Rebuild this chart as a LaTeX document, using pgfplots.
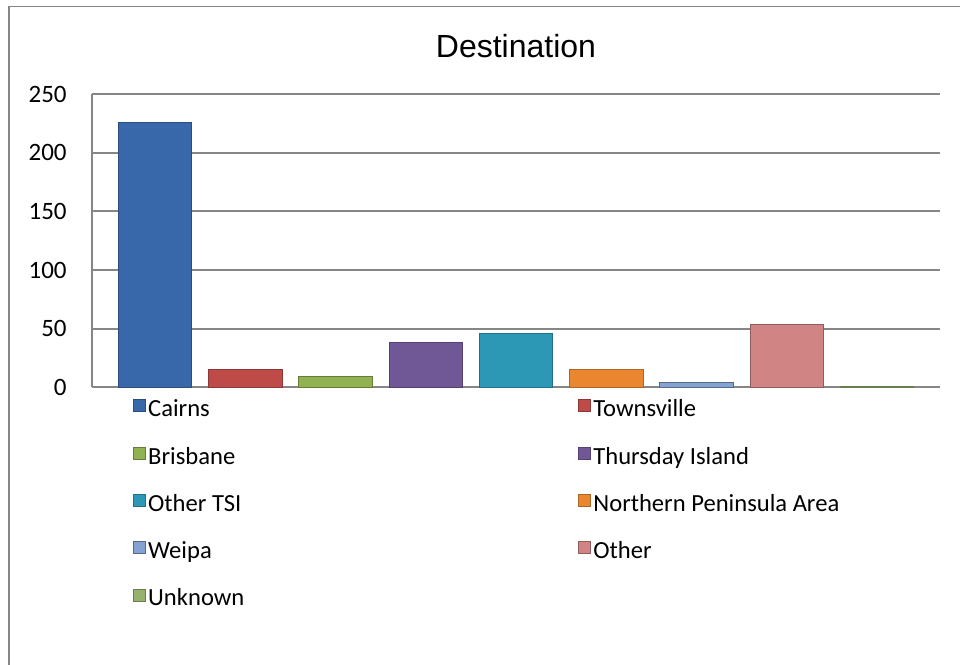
\documentclass[border=0pt]{standalone}
\usepackage{pgfplots}
\pgfplotsset{compat=1.18}
\usepackage{fontspec}
\setmainfont{Carlito}
\newfontfamily\arialfont{Liberation Sans}
\definecolor{gridgray}{RGB}{134,134,134}
\definecolor{cCairns}{RGB}{56,104,170}
\definecolor{cTownsville}{RGB}{190,75,72}
\definecolor{cBrisbane}{RGB}{145,178,80}
\definecolor{cThursday}{RGB}{112,88,150}
\definecolor{cOtherTSI}{RGB}{44,152,182}
\definecolor{cNPA}{RGB}{234,134,48}
\definecolor{cWeipa}{RGB}{132,162,210}
\definecolor{cOther}{RGB}{208,133,132}
\definecolor{cUnknown}{RGB}{150,178,110}
\newcommand{\colone}[1]{\makebox[215pt][l]{#1}}
\begin{document}
\begin{tikzpicture}
\path[use as bounding box] (-46pt,-138.85pt) rectangle (434pt,193.65pt);
\begin{axis}[
  at={(0,0)}, anchor=south west,
  width=424pt, height=146.65pt, scale only axis,
  xmin=-0.698, xmax=8.698,
  ymin=0, ymax=250,
  ytick={0,50,100,150,200,250},
  xtick=\empty,
  axis x line=bottom, axis y line=left,
  axis line style={-, draw=gridgray, line width=0.9pt},
  ymajorgrids,
  grid style={draw=gridgray, line width=0.9pt},
  major tick length=0pt,
  ytick style={draw=none},
  /pgf/number format/assume math mode=true,
  yticklabel style={font=\fontsize{12.5}{15}\selectfont, anchor=east, inner sep=0pt, xshift=-12.5pt},
  title={Destination},
  title style={font=\arialfont\fontsize{16}{18}\selectfont, at={(axis description cs:0.5,1)}, anchor=base, yshift=12.35pt, inner sep=0pt},
  ybar, bar width=0.813, bar shift=0pt,
  legend columns=2,
  legend image code/.code={\draw[#1, line width=0.4pt] (0pt,-0.5pt) rectangle (6pt,5.5pt);},
  legend style={draw=none, fill=none, at={(axis description cs:0,0)}, anchor=north west,
    xshift=20.5pt, yshift=-5.7pt, inner sep=0pt, outer sep=0pt,
    row sep=11.65pt, column sep=0pt,
    nodes={inner sep=0pt, text height=9pt, text depth=3pt, font=\fontsize{12.3}{15}\selectfont},
    /tikz/every odd column/.append style={column sep=1.2pt}},
  legend cell align=left,
]
\addplot[fill=cCairns, draw=cCairns!75!black, bar shift=0pt] coordinates {(0,226)};
\addlegendentry{\colone{Cairns}}
\addplot[fill=cTownsville, draw=cTownsville!75!black, bar shift=0pt] coordinates {(1,15)};
\addlegendentry{Townsville}
\addplot[fill=cBrisbane, draw=cBrisbane!70!black, bar shift=0pt] coordinates {(2,9)};
\addlegendentry{\colone{Brisbane}}
\addplot[fill=cThursday, draw=cThursday!75!black, bar shift=0pt] coordinates {(3,38)};
\addlegendentry{Thursday Island}
\addplot[fill=cOtherTSI, draw=cOtherTSI!75!black, bar shift=0pt] coordinates {(4,46)};
\addlegendentry{\colone{Other TSI}}
\addplot[fill=cNPA, draw=cNPA!75!black, bar shift=0pt] coordinates {(5,15)};
\addlegendentry{Northern Peninsula Area}
\addplot[fill=cWeipa, draw=cWeipa!65!black, bar shift=0pt] coordinates {(6,4.5)};
\addlegendentry{\colone{Weipa}}
\addplot[fill=cOther, draw=cOther!70!black, bar shift=0pt] coordinates {(7,54)};
\addlegendentry{Other}
\addplot[fill=cUnknown, draw=cUnknown!70!black, bar shift=0pt] coordinates {(8,1)};
\addlegendentry{\colone{Unknown}}
\end{axis}
\draw[gridgray, line width=0.9pt] (-41.35pt,-140pt) -- (-41.35pt,190.4pt) -- (436pt,190.4pt);
\end{tikzpicture}
\end{document}
